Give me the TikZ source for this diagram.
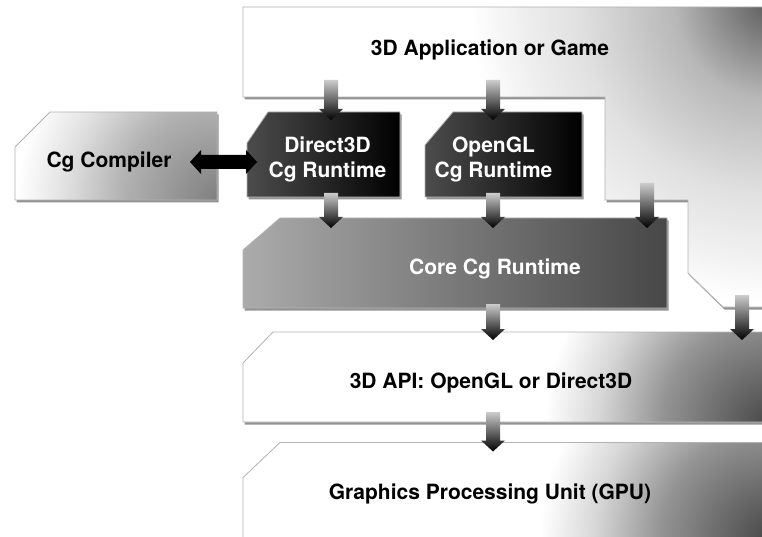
\documentclass[tikz,border=0pt]{standalone}
\usepackage{fontspec}
\setmainfont{TeX Gyre Heros}
\usetikzlibrary{shadows, calc, positioning}

\pgfdeclareradialshading{layercorner}{\pgfpoint{0bp}{0bp}}{color(0bp)=(black!72);
  color(12bp)=(black!42); color(19bp)=(black!16); color(25bp)=(white); color(50bp)=(white)}
\pgfdeclareradialshading{appcorner}{\pgfpoint{0bp}{0bp}}{color(0bp)=(black!64);
  color(8bp)=(black!28); color(16bp)=(black!12); color(21bp)=(black!6); color(25bp)=(white);
  color(50bp)=(white)}
\pgfdeclareradialshading{compcorner}{\pgfpoint{0bp}{0bp}}{color(0bp)=(black!50);
  color(12bp)=(black!30); color(19bp)=(black!12); color(25bp)=(white); color(50bp)=(white)}

% outline of a chamfered layer round a frame node
\def\layerpath#1#2#3{($(#1.north west)+(0,#3)$) -- ($(#1.north west)+(#2,0)$)
  -- (#1.north east) -- (#1.south east) -- (#1.south west) -- cycle}
\def\apppath{(243,7) -- (775,7) -- (775,307) -- (723,307) -- (688,273) -- (688,200)
  -- (605,200) -- (605,97) -- (243,97) -- cycle}
% white layer darkening towards one corner
\newcommand\lightlayer[6]{%
  \fill[white, layershadow] \layerpath{#1}{#2}{#3};
  \begin{scope}
    \clip \layerpath{#1}{#2}{#3};
    \shade[shading=#6] #4 circle (#5);
  \end{scope}
  \draw[layerline] \layerpath{#1}{#2}{#3};}
% block arrow, top point -> tip
\newcommand\flowarrow[2]{%
  \shade[top color=black!20, middle color=black!75, bottom color=black]
    let \p1=#1, \p2=#2 in
    (\x2-7pt,\y1) -- (\x2+7pt,\y1) -- (\x2+7pt,\y2+11pt) -- (\x2+12pt,\y2+11pt)
    -- (\x2,\y2) -- (\x2-12pt,\y2+11pt) -- (\x2-7pt,\y2+11pt) -- cycle;}
% double block arrow, left tip <-> right tip
\newcommand\swaparrow[2]{%
  \shade[left color=black, middle color=black!45, right color=black]
    let \p1=#1, \p2=#2 in
    (\x1,\y1) -- (\x1+11pt,\y1+12pt) -- (\x1+11pt,\y1+7pt) -- (\x2-11pt,\y1+7pt)
    -- (\x2-11pt,\y1+12pt) -- (\x2,\y1) -- (\x2-11pt,\y1-12pt) -- (\x2-11pt,\y1-7pt)
    -- (\x1+11pt,\y1-7pt) -- (\x1+11pt,\y1-12pt) -- cycle;}

\begin{document}
\begin{tikzpicture}[x=1pt, y=-1pt, font=\bfseries\fontsize{21}{25}\selectfont,
    frame/.style={rectangle, inner sep=0pt, outer sep=0pt},
    layershadow/.style={drop shadow={shadow xshift=1.5pt, shadow yshift=-2.5pt, opacity=.85}},
    layerline/.style={draw=black!30, line width=.8pt},
    darkfill/.style={left color=black!70, right color=black},
    lighttext/.style={text=white, align=center},
    darktext/.style={text=black, align=center}]
  \useasboundingbox (0,0) rectangle (762,537);

  % 3D application (irregular outline)
  \fill[white, layershadow] \apppath;
  \begin{scope}
    \clip \apppath;
    \shade[shading=appcorner] (770,2) circle (300);
  \end{scope}
  \draw[layerline] \apppath;
  \coordinate (appedge) at (243,97);
  \coordinate (appstep) at (605,200);
  \coordinate (appdrop) at (723,307);
  \node[darktext] (app) at (490,50) {3D Application or Game};

  % layers
  \node[frame, minimum width=202pt, minimum height=88pt] (comp) at (116,156) {};
  \node[frame, minimum width=153pt, minimum height=85pt] (d3d) at (323.5,154.5) {};
  \node[frame, minimum width=157pt, minimum height=85pt] (ogl) at (503.5,154.5) {};
  \node[frame, minimum width=424pt, minimum height=90pt] (core) at (455,263) {};
  \node[frame, minimum width=532pt, minimum height=90pt] (api) at (509,377) {};
  \node[frame, minimum width=532pt, minimum height=95pt] (gpu) at (509,490) {};

  \lightlayer{comp}{35}{35}{(comp.south east)}{200}{compcorner}
  \shade[layerline, layershadow, darkfill] \layerpath{d3d}{21}{31};
  \shade[layerline, layershadow, darkfill] \layerpath{ogl}{28}{33};
  \shade[layerline, layershadow, left color=black!33, right color=black!72] \layerpath{core}{37}{32};
  \lightlayer{api}{30}{31}{(770,425)}{225}{layercorner}
  \lightlayer{gpu}{37}{35}{(770,540)}{230}{layercorner}

  \node[darktext] at ($(comp.center)+(-7,6)$) {Cg Compiler};
  \node[lighttext] at ($(d3d.center)+(4,5)$) {Direct3D\\Cg Runtime};
  \node[lighttext] at ($(ogl.center)+(-10,5)$) {OpenGL\\Cg Runtime};
  \node[lighttext] at ($(core.center)+(40,6)$) {Core Cg Runtime};
  \node[darktext] at ($(api.center)+(-18,6)$) {3D API: OpenGL or Direct3D};
  \node[darktext] at ($(gpu.center)+(-19,4)$) {Graphics Processing Unit (GPU)};

  % arrow columns
  \coordinate (colA) at (331,0);
  \coordinate (colB) at (493,0);
  \coordinate (colC) at (647,0);
  \coordinate (colD) at (742,0);

  \flowarrow{($(colA |- appedge)+(0,-17)$)}{($(colA |- d3d.north)+(0,8)$)}
  \flowarrow{($(colB |- appedge)+(0,-17)$)}{($(colB |- ogl.north)+(0,8)$)}
  \flowarrow{($(colA |- d3d.south)+(0,-4)$)}{($(colA |- core.north)+(0,10)$)}
  \flowarrow{($(colB |- ogl.south)+(0,-4)$)}{($(colB |- core.north)+(0,10)$)}
  \flowarrow{($(colC |- appstep)+(0,-17)$)}{($(colC |- core.north)+(0,10)$)}
  \flowarrow{($(colB |- core.south)+(0,-4)$)}{($(colB |- api.north)+(0,8)$)}
  \flowarrow{($(colD |- appdrop)+(0,-12)$)}{($(colD |- api.north)+(0,8)$)}
  \flowarrow{($(colB |- api.south)+(0,-10)$)}{($(colB |- gpu.north)+(0,9)$)}
  \swaparrow{($(comp.east)+(-27,6)$)}{($(d3d.west)+(10,6)$)}
\end{tikzpicture}
\end{document}
